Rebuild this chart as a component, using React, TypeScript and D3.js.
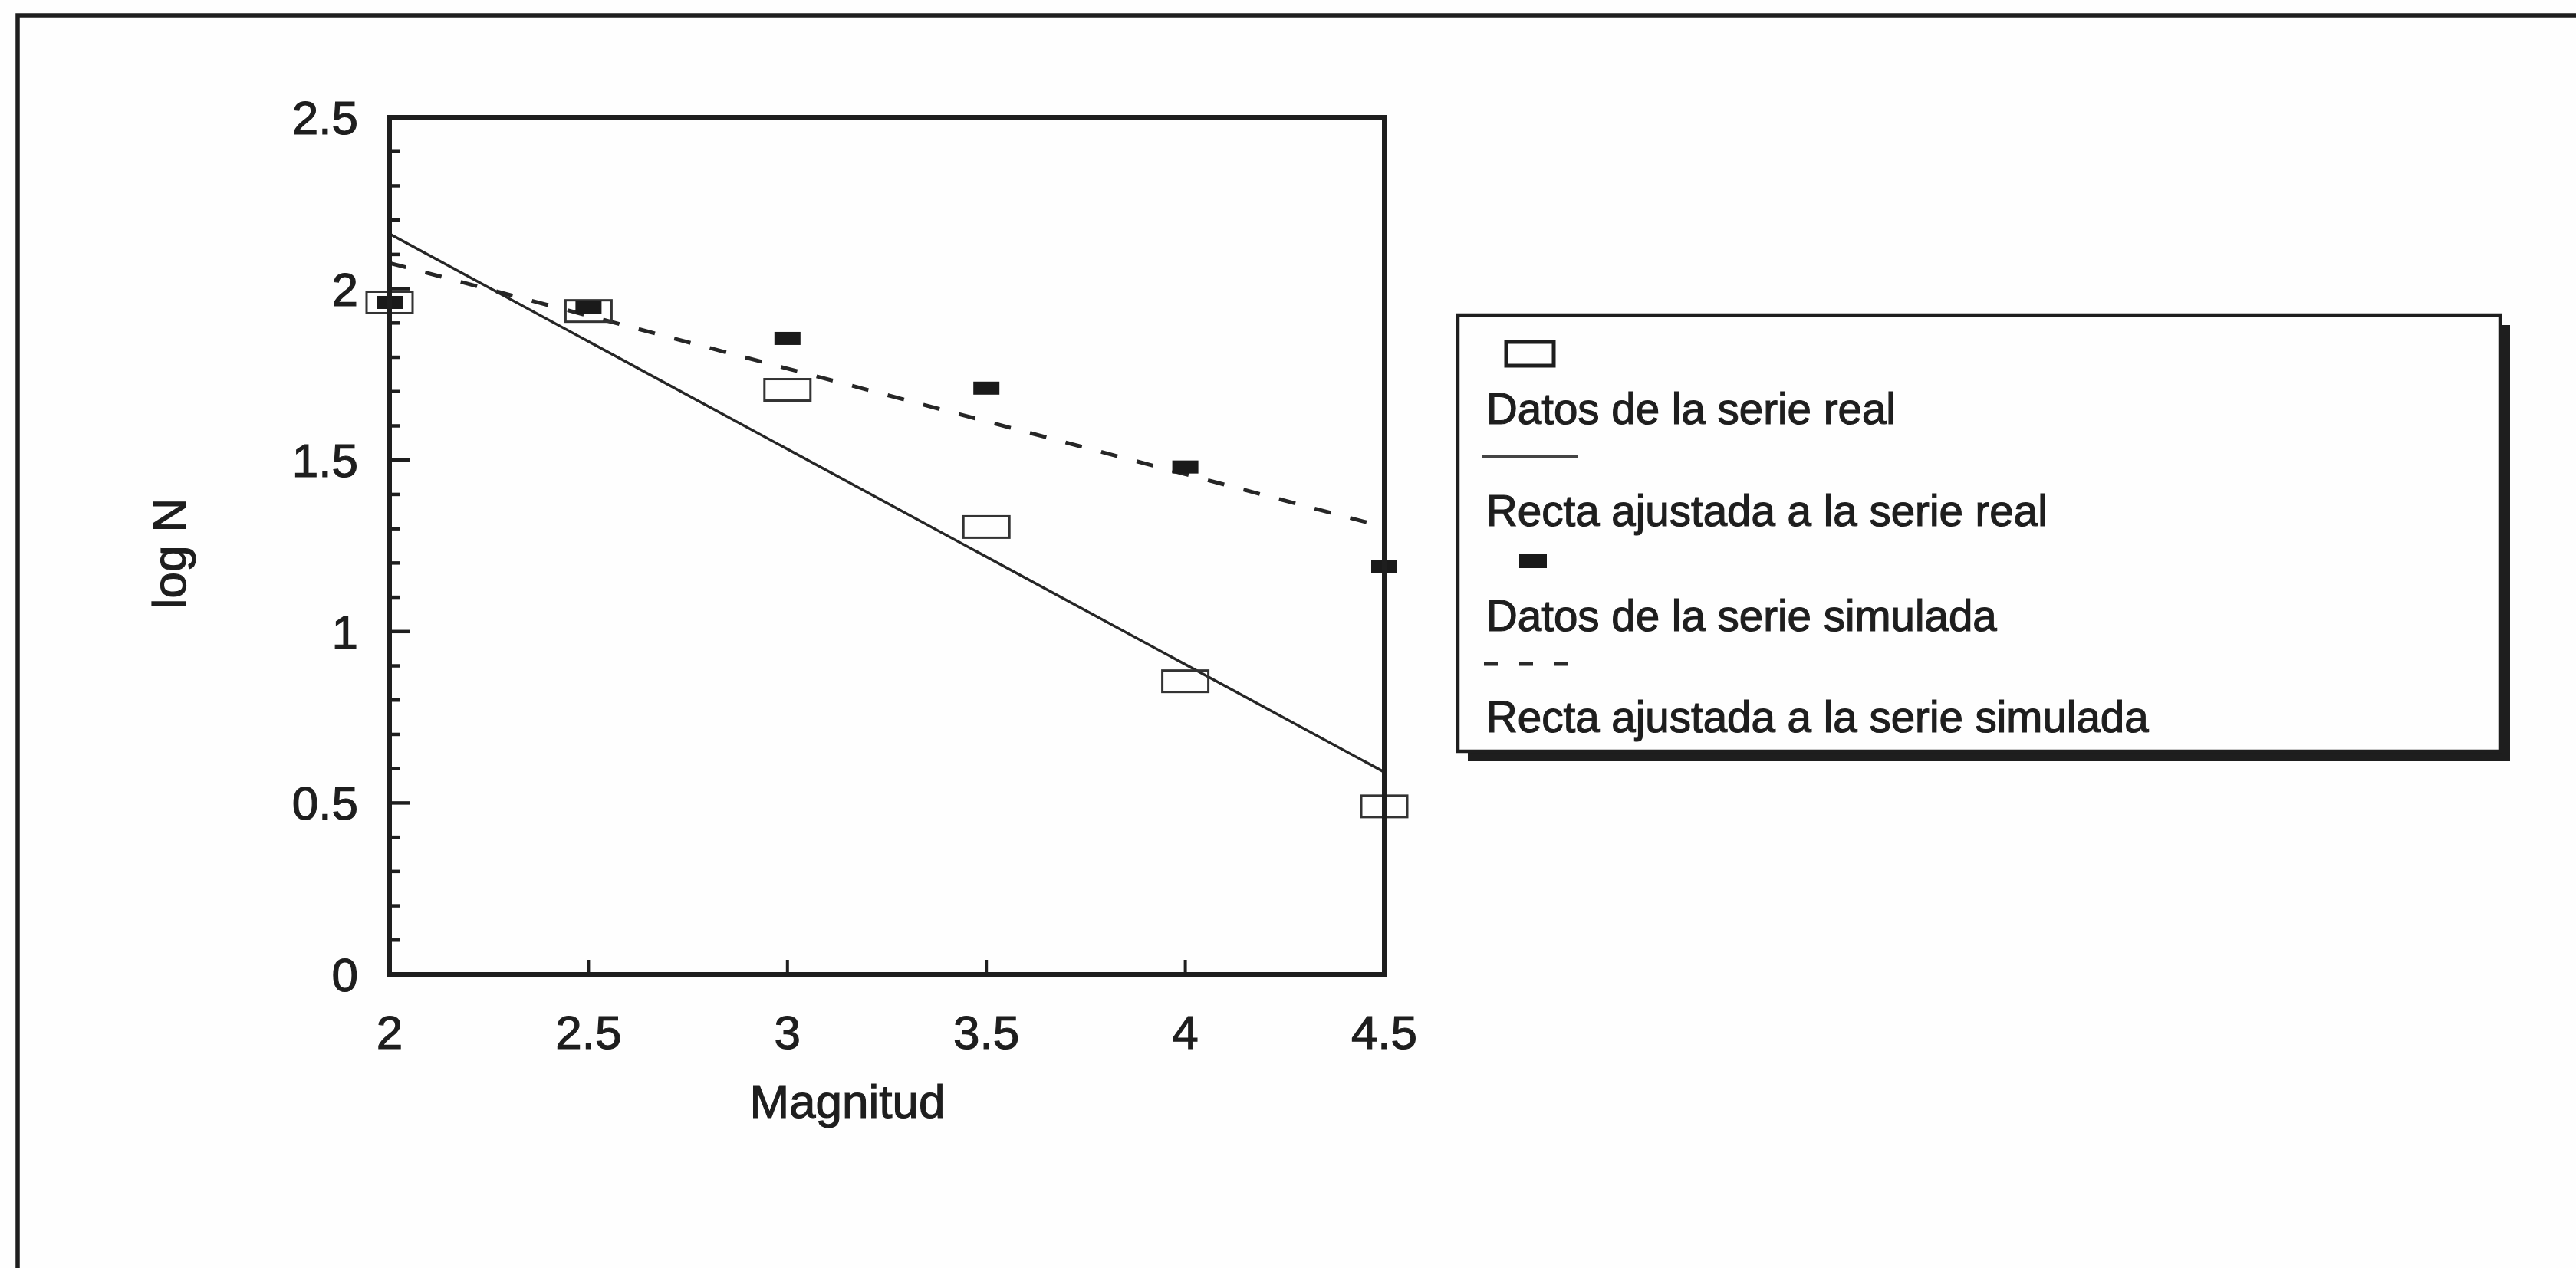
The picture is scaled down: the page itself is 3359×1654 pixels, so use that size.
import React from "react";
import * as d3 from "d3";

// Magnitude classes and log N for the observed and simulated catalogues
const magnitudes = [2, 2.5, 3, 3.5, 4, 4.5];
const realLogN = [1.96, 1.935, 1.705, 1.305, 0.855, 0.49];
const simLogN = [1.96, 1.945, 1.855, 1.71, 1.48, 1.19];

const xTicks = [2, 2.5, 3, 3.5, 4, 4.5];
const yTicks = [0, 0.5, 1, 1.5, 2, 2.5];
const xTickLabels = ["2", "2.5", "3", "3.5", "4", "4.5"];
const yTickLabels = ["0", "0.5", "1", "1.5", "2", "2.5"];

const legendLabels = [
  "Datos de la serie real",
  "Recta ajustada a la serie real",
  "Datos de la serie simulada",
  "Recta ajustada a la serie simulada",
];

const FONT = "'Liberation Sans', Arial, Helvetica, sans-serif";
const INK = "#1e1e1e";

// Ordinary least-squares fit y = a + b x
function fit(xs: number[], ys: number[]) {
  const mx = d3.mean(xs) as number;
  const my = d3.mean(ys) as number;
  let sxy = 0;
  let sxx = 0;
  xs.forEach((x, i) => {
    sxy += (x - mx) * (ys[i] - my);
    sxx += (x - mx) * (x - mx);
  });
  const b = sxy / sxx;
  const a = my - b * mx;
  return (x: number) => a + b * x;
}

export default function App() {
  const W = 3359;
  const H = 1654;
  const x = d3.scaleLinear().domain([2, 4.5]).range([508, 1805]);
  const y = d3.scaleLinear().domain([0, 2.5]).range([1271, 153]);

  const realFit = fit(magnitudes, realLogN);
  const simFit = fit(magnitudes, simLogN);
  const [x0, x1] = x.domain();
  const line = d3
    .line<[number, number]>()
    .x((d) => x(d[0]))
    .y((d) => y(d[1]));

  const minorY = d3.range(0, 26).map((i) => i / 10);

  // Legend layout
  const lg = { x: 1901, y: 411, w: 1359, h: 569, shadow: 13 };
  const textX = 1938;
  const baselines = [553, 686, 823, 955];

  const textStyle = { stroke: INK, strokeWidth: 1.2 };

  return (
    <svg
      width={W}
      height={H}
      viewBox={`0 0 ${W} ${H}`}
      style={{ position: "absolute", left: 0, top: 0, background: "#fff" }}
      fontFamily={FONT}
    >
      <rect x={0} y={0} width={W} height={H} fill="#fefefe" />
      {/* outer frame */}
      <rect x={23} y={20} width={W + 100} height={H + 100} fill="none" stroke={INK} strokeWidth={5.5} />

      {/* fitted lines */}
      <path
        d={line([
          [x0, realFit(x0)],
          [x1, realFit(x1)],
        ]) as string}
        fill="none"
        stroke="#262626"
        strokeWidth={3.5}
      />
      <path
        d={line([
          [x0, simFit(x0)],
          [x1, simFit(x1)],
        ]) as string}
        fill="none"
        stroke="#262626"
        strokeWidth={5}
        strokeDasharray="22 26"
      />

      {/* observed series: open rectangles */}
      {magnitudes.map((m, i) => (
        <rect
          key={"r" + i}
          x={x(m) - 30}
          y={y(realLogN[i]) - 14}
          width={60}
          height={28}
          fill="none"
          stroke="#333"
          strokeWidth={3}
        />
      ))}
      {/* simulated series: filled rectangles */}
      {magnitudes.map((m, i) => (
        <rect
          key={"s" + i}
          x={x(m) - 17}
          y={y(simLogN[i]) - 8.5}
          width={34}
          height={17}
          fill="#1a1a1a"
        />
      ))}

      {/* plot frame */}
      <rect
        x={x(2)}
        y={y(2.5)}
        width={x(4.5) - x(2)}
        height={y(0) - y(2.5)}
        fill="none"
        stroke={INK}
        strokeWidth={6}
      />

      {/* y ticks (inward) */}
      {minorY.map((v, i) => {
        const major = i % 5 === 0;
        return (
          <line
            key={"yt" + i}
            x1={x(2)}
            x2={x(2) + (major ? 26 : 13)}
            y1={y(v)}
            y2={y(v)}
            stroke={INK}
            strokeWidth={4.5}
          />
        );
      })}
      {/* x ticks (inward) */}
      {xTicks.map((v, i) => (
        <line
          key={"xt" + i}
          x1={x(v)}
          x2={x(v)}
          y1={y(0)}
          y2={y(0) - 19}
          stroke={INK}
          strokeWidth={4}
        />
      ))}

      {/* tick labels */}
      {yTicks.map((v, i) => (
        <text
          key={"yl" + i}
          x={467}
          y={y(v) + 22}
          textAnchor="end"
          fontSize={62}
          fill={INK}
          style={textStyle}
        >
          {yTickLabels[i]}
        </text>
      ))}
      {xTicks.map((v, i) => (
        <text
          key={"xl" + i}
          x={x(v)}
          y={1368}
          textAnchor="middle"
          fontSize={62}
          fill={INK}
          style={textStyle}
        >
          {xTickLabels[i]}
        </text>
      ))}

      {/* axis titles */}
      <text x={1105} y={1458} textAnchor="middle" fontSize={62} fill={INK} style={textStyle}>
        Magnitud
      </text>
      <text
        transform={`translate(242, 722) rotate(-90)`}
        textAnchor="middle"
        fontSize={62}
        fill={INK}
        style={textStyle}
      >
        log N
      </text>

      {/* legend with drop shadow */}
      <rect
        x={lg.x + lg.shadow}
        y={lg.y + lg.shadow}
        width={lg.w}
        height={lg.h}
        fill="#1e1e1e"
      />
      <rect x={lg.x} y={lg.y} width={lg.w} height={lg.h} fill="#fefefe" stroke={INK} strokeWidth={4.5} />

      <rect x={1964} y={446} width={62} height={31} fill="none" stroke={INK} strokeWidth={5} />
      <line x1={1933} x2={2058} y1={596} y2={596} stroke="#444" strokeWidth={4} />
      <rect x={1981} y={723} width={36} height={18} fill="#1a1a1a" />
      <line
        x1={1935}
        x2={2052}
        y1={866}
        y2={866}
        stroke="#2a2a2a"
        strokeWidth={5}
        strokeDasharray="18 28"
      />

      {legendLabels.map((t, i) => (
        <text key={"lg" + i} x={textX} y={baselines[i]} fontSize={56.5} fill={INK} style={textStyle}>
          {t}
        </text>
      ))}
    </svg>
  );
}
